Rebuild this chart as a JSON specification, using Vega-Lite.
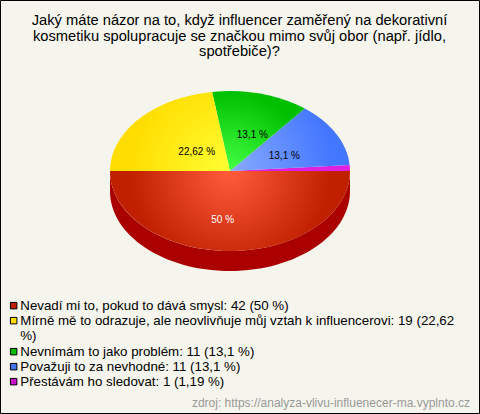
{
"$schema":"https://vega.github.io/schema/vega-lite/v6.json",
"width":479,"height":413,"autosize":{"type":"none"},"padding":{"left":0,"top":0,"right":1,"bottom":1},
"background":"#f5f5ed",
"config":{"view":{"stroke":"#000000","strokeWidth":1},"font":"Liberation Sans"},
"title":{"text":["Jaký máte názor na to, když influencer zaměřený na dekorativní","kosmetiku spolupracuje se značkou mimo svůj obor (např. jídlo,","spotřebiče)?"],"anchor":"middle","frame":"group","offset":-59,"font":"Liberation Sans","fontSize":14.7,"fontWeight":"normal","lineHeight":15.5,"color":"#000000"},
"data":{"values":[
{"odpoved":"Nevadí mi to, pokud to dává smysl: 42 (50 %)","kategorie":"Nevadí","pocet":42,"podil":"50 %"},
{"odpoved":"Mírně mě to odrazuje, ale neovlivňuje můj vztah k influencerovi: 19 (22,62|%)","kategorie":"Mírně","pocet":19,"podil":"22,62 %"},
{"odpoved":"Nevnímám to jako problém: 11 (13,1 %)","kategorie":"Nevnímám","pocet":11,"podil":"13,1 %"},
{"odpoved":"Považuji to za nevhodné: 11 (13,1 %)","kategorie":"Považuji","pocet":11,"podil":"13,1 %"},
{"odpoved":"Přestávám ho sledovat: 1 (1,19 %)","kategorie":"Přestávám","pocet":1,"podil":"1,19 %"}
]},
"encoding":{
"x":{"datum":0,"type":"quantitative","scale":{"domain":[-230,249]},"axis":null},
"y":{"datum":0,"type":"quantitative","scale":{"domain":[-242,171]},"axis":null}
},
"layer":[
{"mark":{"type":"point","filled":true,"size":1,"opacity":0},
 "encoding":{"color":{"field":"odpoved","type":"nominal","sort":null,
  "scale":{"domain":["Nevadí mi to, pokud to dává smysl: 42 (50 %)","Mírně mě to odrazuje, ale neovlivňuje můj vztah k influencerovi: 19 (22,62|%)","Nevnímám to jako problém: 11 (13,1 %)","Považuji to za nevhodné: 11 (13,1 %)","Přestávám ho sledovat: 1 (1,19 %)"],"range":["#c02000","#ffdd00","#00bb00","#4477ee","#cc11cc"]},
  "legend":{"orient":"none","legendX":7,"legendY":299,"title":null,"symbolType":"square","symbolSize":42,"symbolOpacity":1,"symbolStrokeColor":"#000000","symbolStrokeWidth":1,"labelFont":"Liberation Sans","labelFontSize":13.3,"labelColor":"#000000","labelLimit":470,"labelOffset":0,"rowPadding":1,"labelExpr":"split(datum.label,'|')","labelBaseline":"middle"}}}},
{"transform":[{"filter":"datum.kategorie==='Nevadí'"}],"mark":{"type":"point","filled":true,"opacity":1,"size":4,"fill":"#aa0000","stroke":null,"shape":"M-120,0A120,80,0,0,0,120,0L120,20A120,80,0,0,1,-120,20Z"}},
{"transform":[{"filter":"datum.kategorie==='Nevadí'"}],"mark":{"type":"point","filled":true,"opacity":1,"size":4,"stroke":null,"fill":{"gradient":"radial","x1":0.5,"y1":0.333,"r1":0,"x2":0.5,"y2":0.333,"r2":0.42,"stops":[{"offset":0,"color":"#ff5c3c"},{"offset":1,"color":"#c02000"}]},"shape":"M0,0L-120,0A120,80,0,0,0,120,0Z"}},
{"transform":[{"filter":"datum.kategorie==='Přestávám'"}],"mark":{"type":"point","filled":true,"opacity":1,"size":4,"stroke":null,"fill":"#e020e0","shape":"M0,0L120,0A120,80,0,0,0,119.66,-5.98Z"}},
{"transform":[{"filter":"datum.kategorie==='Považuji'"}],"mark":{"type":"point","filled":true,"opacity":1,"size":4,"stroke":null,"fill":{"gradient":"radial","x1":0,"y1":0.736,"r1":0,"x2":0,"y2":0.736,"r2":0.85,"stops":[{"offset":0,"color":"#88aaff"},{"offset":1,"color":"#4477ff"}]},"shape":"M0,0L119.66,-5.98A120,80,0,0,0,74.82,-62.55Z"}},
{"transform":[{"filter":"datum.kategorie==='Nevnímám'"}],"mark":{"type":"point","filled":true,"opacity":1,"size":4,"stroke":null,"fill":{"gradient":"radial","x1":0.193,"y1":0.927,"r1":0,"x2":0.193,"y2":0.927,"r2":0.85,"stops":[{"offset":0,"color":"#44ff44"},{"offset":1,"color":"#00c000"}]},"shape":"M0,0L74.82,-62.55A120,80,0,0,0,-17.88,-79.11Z"}},
{"transform":[{"filter":"datum.kategorie==='Mírně'"}],"mark":{"type":"point","filled":true,"opacity":1,"size":4,"stroke":null,"fill":{"gradient":"radial","x1":1,"y1":0.833,"r1":0,"x2":1,"y2":0.833,"r2":0.85,"stops":[{"offset":0,"color":"#ffff33"},{"offset":1,"color":"#ffdd00"}]},"shape":"M0,0L-17.88,-79.11A120,80,0,0,0,-120,0Z"}},
{"transform":[{"filter":"datum.kategorie==='Nevadí'"}],"mark":{"type":"text","fontSize":10,"color":"#ffffff"},"encoding":{"x":{"datum":-7.3,"type":"quantitative"},"y":{"datum":-49,"type":"quantitative"},"text":{"field":"podil"}}},
{"transform":[{"filter":"datum.kategorie==='Mírně'"}],"mark":{"type":"text","fontSize":10,"color":"#000000"},"encoding":{"x":{"datum":-33.3,"type":"quantitative"},"y":{"datum":19.5,"type":"quantitative"},"text":{"field":"podil"}}},
{"transform":[{"filter":"datum.kategorie==='Nevnímám'"}],"mark":{"type":"text","fontSize":10,"color":"#000000"},"encoding":{"x":{"datum":22.3,"type":"quantitative"},"y":{"datum":36,"type":"quantitative"},"text":{"field":"podil"}}},
{"transform":[{"filter":"datum.kategorie==='Považuji'"}],"mark":{"type":"text","fontSize":10,"color":"#000000"},"encoding":{"x":{"datum":54.3,"type":"quantitative"},"y":{"datum":15,"type":"quantitative"},"text":{"field":"podil"}}},
{"data":{"values":[{"zdroj":"zdroj: https://analyza-vlivu-influenecer-ma.vyplnto.cz"}]},"mark":{"type":"text","fontSize":12,"color":"#999999","align":"right"},"encoding":{"x":{"datum":240,"type":"quantitative"},"y":{"datum":-232,"type":"quantitative"},"text":{"field":"zdroj"}}}
]
}
